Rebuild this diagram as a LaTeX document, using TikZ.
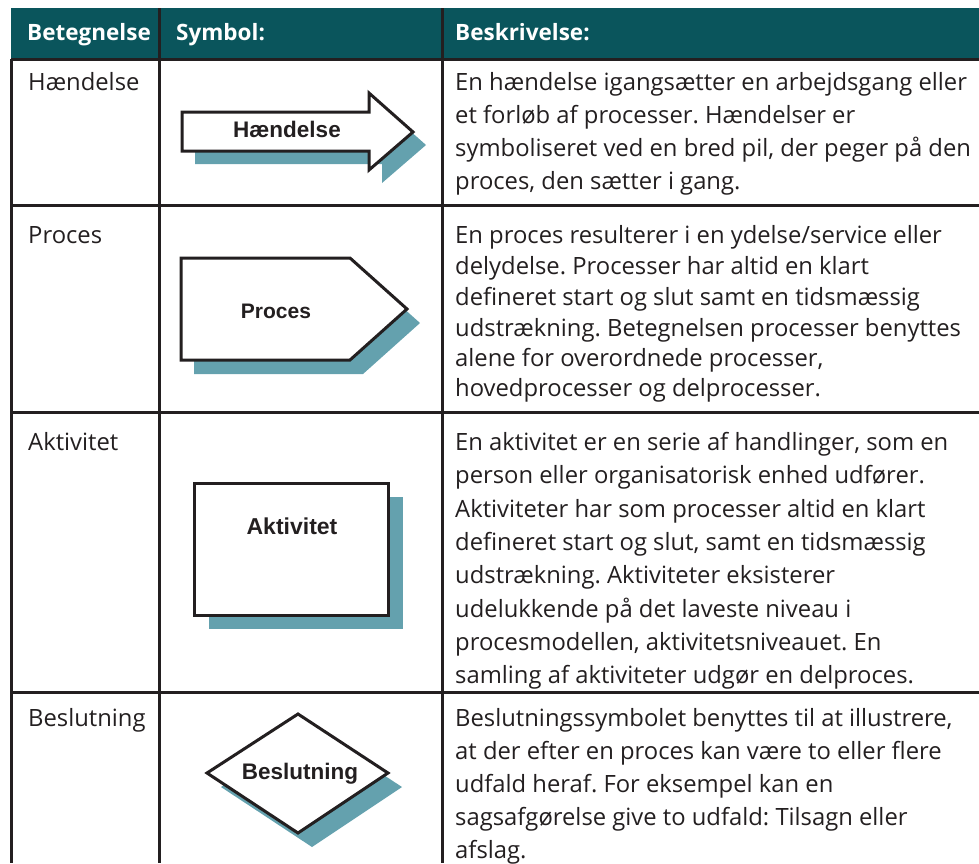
\documentclass[tikz,border=0pt]{standalone}
\usepackage{fontspec}
\setmainfont{Open Sans}
\newfontfamily\symfont{Liberation Sans}
\frenchspacing
\definecolor{headteal}{HTML}{0A555C}
\definecolor{shade}{HTML}{64A1AE}
\definecolor{ink}{HTML}{231F20}
\tikzset{
  rule/.style={draw=ink, line width=3pt},
  shadowfill/.style={fill=shade, draw=none},
  symshape/.style={fill=white, draw=ink, line width=3pt, line join=miter},
  headtext/.style={anchor=base west, inner sep=0pt, text=white, font=\fontsize{22.5}{26}\selectfont\bfseries},
  celltext/.style={anchor=base west, inner sep=0pt, text=ink, font=\fontsize{23.8}{28}\selectfont},
  symlabel/.style={anchor=base, inner sep=0pt, text=ink, font=\symfont\bfseries\fontsize{#1}{26}\selectfont},
}
\begin{document}
\begin{tikzpicture}[x=1pt, y=-1pt]
\useasboundingbox (0,0) rectangle (979,863);

% header band
\fill[headteal] (11,8) rectangle (979,59);

% table rules
\draw[rule] (11,59) -- (11,863);
\draw[rule] (159,8) -- (159,863);
\draw[rule] (442,8) -- (442,863);
\draw[rule] (11,59) -- (979,59);
\draw[rule] (11,205) -- (979,205);
\draw[rule] (11,412) -- (979,412);
\draw[rule] (11,692) -- (979,692);

% header texts
\node[headtext] (h1) at (27,40) {Betegnelse};
\node[headtext] (h2) at (176,40) {Symbol:};
\node[headtext] (h3) at (455,40) {Beskrivelse:};

% first column
\node[celltext] (n1) at (28,90) {Hændelse};
\node[celltext] (n2) at (28,243) {Proces};
\node[celltext] (n3) at (28,450) {Aktivitet};
\node[celltext] (n4) at (28,726) {Beslutning};

% symbol: event arrow
\fill[shadowfill, shift={(13,13)}] (182,112) -- (369,112) -- (369,93) -- (413,132) -- (369,170) -- (369,151) -- (182,151) -- cycle;
\draw[symshape] (182,112) -- (369,112) -- (369,93) -- (413,132) -- (369,170) -- (369,151) -- (182,151) -- cycle;
\node[symlabel=22.5] (s1) at (287,137) {Hændelse};

% symbol: process pentagon
\fill[shadowfill, shift={(13,14)}] (181,258) -- (350,258) -- (407,309) -- (350,360) -- (181,360) -- cycle;
\draw[symshape] (181,258) -- (350,258) -- (407,309) -- (350,360) -- (181,360) -- cycle;
\node[symlabel=21] (s2) at (276,318) {Proces};

% symbol: activity box
\fill[shadowfill, shift={(15,14)}] (194,483) rectangle (388,615);
\draw[symshape] (194,483) rectangle (388,615);
\node[symlabel=23] (s3) at (292,534) {Aktivitet};

% symbol: decision diamond
\fill[shadowfill, shift={(14,14)}] (207,773) -- (298,714) -- (388,773) -- (298,833) -- cycle;
\draw[symshape] (207,773) -- (298,714) -- (388,773) -- (298,833) -- cycle;
\node[symlabel=22.5] (s4) at (300,779) {Beslutning};

% descriptions
\node[celltext] (d1a) at (455,90) {En hændelse igangsætter en arbejdsgang eller};
\node[celltext] (d1b) at (455,123) {et forløb af processer. Hændelser er};
\node[celltext] (d1c) at (455,156) {symboliseret ved en bred pil, der peger på den};
\node[celltext] (d1d) at (455,189) {proces, den sætter i gang.};

\node[celltext] (d2a) at (455,243) {En proces resulterer i en ydelse/service eller};
\node[celltext] (d2b) at (455,274) {delydelse. Processer har altid en klart};
\node[celltext] (d2c) at (455,305) {defineret start og slut samt en tidsmæssig};
\node[celltext] (d2d) at (455,336) {udstrækning. Betegnelsen processer benyttes};
\node[celltext] (d2e) at (455,366) {alene for overordnede processer,};
\node[celltext] (d2f) at (455,396) {hovedprocesser og delprocesser.};

\node[celltext] (d3a) at (455,450) {En aktivitet er en serie af handlinger, som en};
\node[celltext] (d3b) at (455,483) {person eller organisatorisk enhed udfører.};
\node[celltext] (d3c) at (455,517) {Aktiviteter har som processer altid en klart};
\node[celltext] (d3d) at (455,550) {defineret start og slut, samt en tidsmæssig};
\node[celltext] (d3e) at (455,583) {udstrækning. Aktiviteter eksisterer};
\node[celltext] (d3f) at (455,617) {udelukkende på det laveste niveau i};
\node[celltext] (d3g) at (455,650) {procesmodellen, aktivitetsniveauet. En};
\node[celltext] (d3h) at (455,683) {samling af aktiviteter udgør en delproces.};

\node[celltext] (d4a) at (455,726) {Beslutningssymbolet benyttes til at illustrere,};
\node[celltext] (d4b) at (455,759) {at der efter en proces kan være to eller flere};
\node[celltext] (d4c) at (455,792) {udfald heraf. For eksempel kan en};
\node[celltext] (d4d) at (455,825) {sagsafgørelse give to udfald: Tilsagn eller};
\node[celltext] (d4e) at (455,858) {afslag.};
\end{tikzpicture}
\end{document}
